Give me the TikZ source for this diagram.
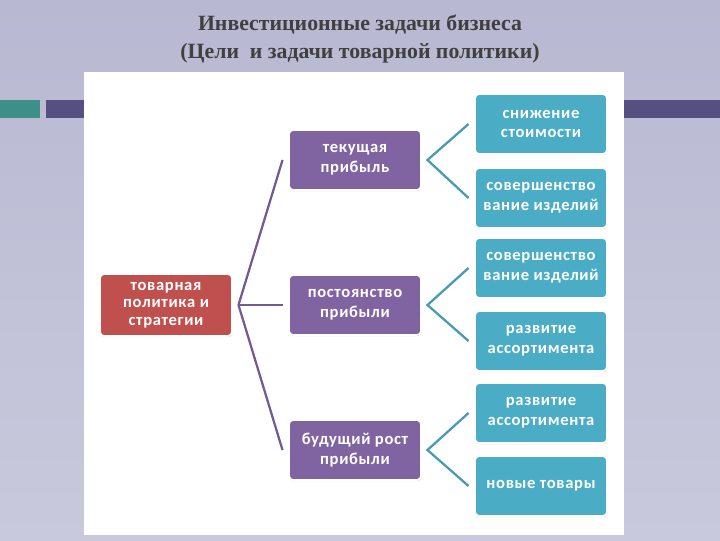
\documentclass[tikz,border=0pt]{standalone}
\usepackage{fontspec}
\setmainfont{Liberation Serif}
\newfontfamily\boxfont[LetterSpace=4]{Carlito}
\usetikzlibrary{shadows}
\definecolor{bg}{HTML}{B8B8D2}
\definecolor{bgl}{HTML}{C9C9DD}
\definecolor{redb}{HTML}{C0504D}
\definecolor{purb}{HTML}{8064A2}
\definecolor{tealb}{HTML}{4BACC6}
\definecolor{barp}{HTML}{55507F}
\definecolor{bart}{HTML}{3D8F8A}
\begin{document}
\begin{tikzpicture}[x=0.025cm,y=-0.025cm,
  box/.style={draw=white,line width=1.2pt,rounded corners=3pt,minimum width=3.3cm,minimum height=1.5cm,
    align=center,text=white,inner sep=1pt,font=\boxfont\bfseries\fontsize{11.8}{14}\selectfont,
    drop shadow={shadow xshift=0.4pt,shadow yshift=-0.8pt,opacity=0.35}},
  rbox/.style={box,fill=redb,font=\boxfont\bfseries\fontsize{11.8}{12.6}\selectfont},
  pbox/.style={box,fill=purb},
  tbox/.style={box,fill=tealb},
  pl/.style={draw=purb!90!black,line width=1.6pt},
  tl/.style={draw=tealb!90!black,line width=1.6pt}]
\useasboundingbox (0,0) rectangle (720,540);
\shade[top color=bg,bottom color=bgl] (0,0) rectangle (720,540);
\fill[bart] (0,100) rectangle (40,118);
\fill[barp] (46,100) rectangle (720,118);
\fill[white] (84,72) rectangle (624,535);
\node[font=\bfseries\fontsize{15.5}{20}\selectfont,text=black!75,align=center] (title) at (360,39)
  {Инвестиционные задачи бизнеса\\(Цели~ и задачи товарной политики)};
\node[rbox,minimum height=1.55cm] (root) at (166,305) {товарная\\политика и\\стратегии};
\node[pbox] (p1) at (355,160) {текущая\\прибыль};
\node[pbox] (p2) at (355,305) {постоянство\\прибыли};
\node[pbox] (p3) at (355,450) {будущий рост\\прибыли};
\node[tbox] (t1) at (541,124) {снижение\\стоимости};
\node[tbox] (t2) at (541,198) {совершенство\\вание изделий};
\node[tbox] (t3) at (541,268) {совершенство\\вание изделий};
\node[tbox] (t4) at (541,341) {развитие\\ассортимента};
\node[tbox] (t5) at (541,413) {развитие\\ассортимента};
\node[tbox] (t6) at (541,486) {новые товары};
\coordinate (r0) at ([xshift=4pt]root.east);
\foreach \p in {p1,p2,p3} \draw[pl] (r0) -- ([xshift=-4pt]\p.west);
\foreach \p/\a/\b in {p1/t1/t2,p2/t3/t4,p3/t5/t6}{
  \coordinate (c) at ([xshift=4pt]\p.east);
  \draw[tl] ([xshift=-4pt]\a.west) -- (c) -- ([xshift=-4pt]\b.west);}
\end{tikzpicture}
\end{document}
